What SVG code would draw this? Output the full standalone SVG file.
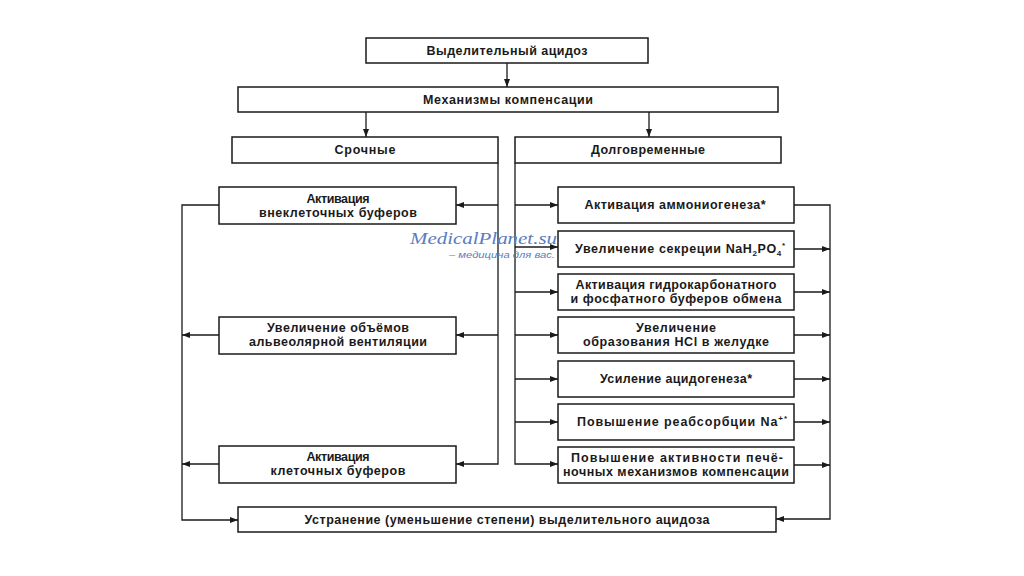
<svg xmlns="http://www.w3.org/2000/svg" width="1024" height="576" viewBox="0 0 1024 576">
<defs>
<marker id="ah" markerUnits="userSpaceOnUse" markerWidth="9" markerHeight="6" refX="8" refY="3" orient="auto">
<path d="M0,0 L8,3 L0,6 z" fill="#1a1a1a"/>
</marker>
<style>
.box{fill:#fff;stroke:#1a1a1a;stroke-width:1.5}
.t{font-family:"Liberation Sans",Arial,sans-serif;font-size:12.5px;font-weight:bold;fill:#1a1a1a;text-anchor:middle}
.sub{font-size:8px}
.c{fill:none;stroke:#1a1a1a;stroke-width:1.3}
.a{fill:none;stroke:#1a1a1a;stroke-width:1.3;marker-end:url(#ah)}
.wm1{font-family:"Liberation Serif","Times New Roman",serif;font-style:italic;font-size:16px;fill:#5a7cc0}
.wm2{font-family:"Liberation Sans",Arial,sans-serif;font-style:italic;font-size:9.5px;fill:#5a7cc0}
</style>
</defs>
<rect width="1024" height="576" fill="#fff"/>

<g id="connectors">
<path class="a" d="M507,63 V87"/>
<path class="a" d="M366,112 V137"/>
<path class="a" d="M649,112 V137"/>
<path class="a" d="M498,163 V464 H456"/>
<path class="a" d="M498,205 H456"/>
<path class="a" d="M498,335 H456"/>
<path class="a" d="M515,163 V464 H558"/>
<path class="a" d="M515,205 H558"/>
<path class="a" d="M515,247 H558"/>
<path class="a" d="M515,292 H558"/>
<path class="a" d="M515,335 H558"/>
<path class="a" d="M515,379 H558"/>
<path class="a" d="M515,422 H558"/>
<path class="a" d="M219,205 H182 V520 H238"/>
<path class="a" d="M219,335 H182"/>
<path class="a" d="M219,464 H182"/>
<path class="a" d="M794,205 H830 V519 H776"/>
<path class="a" d="M794,249 H830"/>
<path class="a" d="M794,292 H830"/>
<path class="a" d="M794,335 H830"/>
<path class="a" d="M794,379 H830"/>
<path class="a" d="M794,422 H830"/>
<path class="a" d="M794,465 H830"/>
</g>

<g id="n-acidosis">
<rect class="box" x="366" y="38" width="282" height="25"/>
<text class="t" x="507" y="55" textLength="161" lengthAdjust="spacing">Выделительный ацидоз</text>
</g>
<g id="n-mechanisms">
<rect class="box" x="238" y="87" width="540" height="25"/>
<text class="t" x="508" y="104" textLength="170" lengthAdjust="spacing">Механизмы компенсации</text>
</g>
<g id="n-urgent">
<rect class="box" x="232" y="137" width="266" height="26"/>
<text class="t" x="365" y="154" textLength="61" lengthAdjust="spacing">Срочные</text>
</g>
<g id="n-longterm">
<rect class="box" x="515" y="137" width="266" height="26"/>
<text class="t" x="648" y="154" textLength="114" lengthAdjust="spacing">Долговременные</text>
</g>

<g id="n-l1">
<rect class="box" x="219" y="187" width="237" height="37"/>
<text class="t" x="338" y="202.5" textLength="63" lengthAdjust="spacing">Активация</text>
<text class="t" x="338" y="216.5" textLength="158" lengthAdjust="spacing">внеклеточных буферов</text>
</g>
<g id="n-l2">
<rect class="box" x="219" y="317" width="237" height="37"/>
<text class="t" x="338" y="332" textLength="142" lengthAdjust="spacing">Увеличение объёмов</text>
<text class="t" x="338" y="346" textLength="178" lengthAdjust="spacing">альвеолярной вентиляции</text>
</g>
<g id="n-l3">
<rect class="box" x="219" y="446" width="237" height="37"/>
<text class="t" x="338" y="461" textLength="63" lengthAdjust="spacing">Активация</text>
<text class="t" x="338" y="475" textLength="135" lengthAdjust="spacing">клеточных буферов</text>
</g>

<g id="n-r1">
<rect class="box" x="558" y="187" width="236" height="36"/>
<text class="t" x="675" y="209" textLength="181" lengthAdjust="spacing">Активация аммониогенеза*</text>
</g>
<g id="n-r2">
<rect class="box" x="558" y="231" width="236" height="36"/>
<text class="t" x="680" y="253" textLength="210" lengthAdjust="spacing">Увеличение секреции NaH<tspan class="sub" dy="3">2</tspan><tspan dy="-3">PO</tspan><tspan class="sub" dy="3">4</tspan><tspan class="sub" dy="-8">*</tspan></text>
</g>
<g id="n-r3">
<rect class="box" x="558" y="274" width="236" height="36"/>
<text class="t" x="676" y="289" textLength="201" lengthAdjust="spacing">Активация гидрокарбонатного</text>
<text class="t" x="676" y="303" textLength="211" lengthAdjust="spacing">и фосфатного буферов обмена</text>
</g>
<g id="n-r4">
<rect class="box" x="558" y="317" width="236" height="36"/>
<text class="t" x="676" y="332" textLength="80" lengthAdjust="spacing">Увеличение</text>
<text class="t" x="676" y="346" textLength="186" lengthAdjust="spacing">образования HCl в желудке</text>
</g>
<g id="n-r5">
<rect class="box" x="558" y="361" width="236" height="36"/>
<text class="t" x="676" y="383" textLength="152" lengthAdjust="spacing">Усиление ацидогенеза*</text>
</g>
<g id="n-r6">
<rect class="box" x="558" y="404" width="236" height="36"/>
<text class="t" x="682" y="426" textLength="210" lengthAdjust="spacing">Повышение реабсорбции Na<tspan class="sub" dy="-5">+*</tspan></text>
</g>
<g id="n-r7">
<rect class="box" x="558" y="447" width="236" height="36"/>
<text class="t" x="677" y="462" textLength="212" lengthAdjust="spacing">Повышение активности печё-</text>
<text class="t" x="676" y="476" textLength="226" lengthAdjust="spacing">ночных механизмов компенсации</text>
</g>

<g id="n-result">
<rect class="box" x="238" y="507" width="538" height="25"/>
<text class="t" x="507" y="524" textLength="405" lengthAdjust="spacing">Устранение (уменьшение степени) выделительного ацидоза</text>
</g>

<g id="watermark">
<text class="wm1" x="410" y="244" textLength="147" lengthAdjust="spacingAndGlyphs">MedicalPlanet.su</text>
<text class="wm2" x="449" y="258" textLength="106" lengthAdjust="spacingAndGlyphs">– медицина для вас.</text>
</g>
</svg>
